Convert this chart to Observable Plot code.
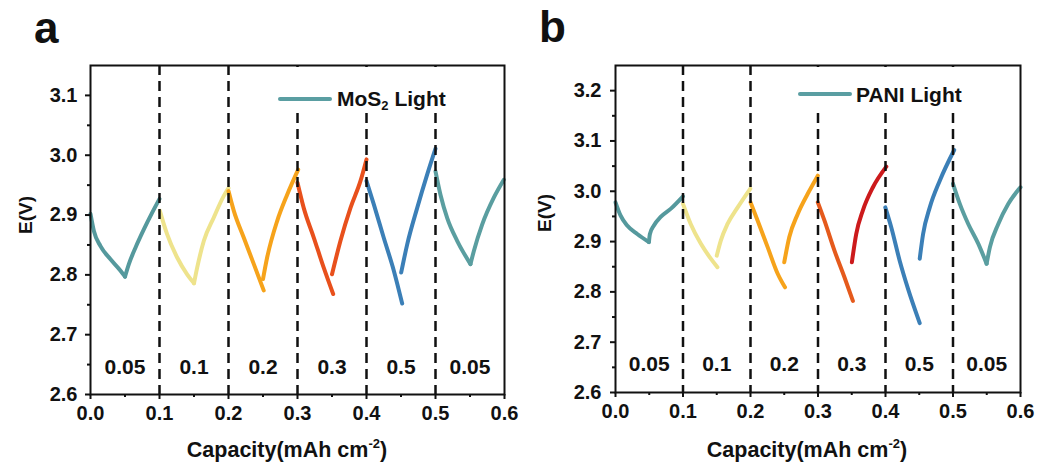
<!DOCTYPE html>
<html><head><meta charset="utf-8">
<script src="https://cdn.jsdelivr.net/npm/d3@7"></script>
<script src="https://cdn.jsdelivr.net/npm/@observablehq/plot@0.6"></script>
<style>
body{margin:0;background:#fff;font-family:"Liberation Sans",Arial,sans-serif;color:#111}
#wrap{position:relative;width:1040px;height:468px;overflow:hidden}
.panel{position:absolute;top:0;width:520px;height:468px}
.panel svg{position:absolute;left:0;top:0}
.letter{position:absolute;font-size:44px;line-height:44px;font-weight:bold;color:#111}
.legbox{position:absolute;background:#fff}
.legline{position:absolute;height:4px;border-radius:2px}
.legtext{position:absolute;font-size:21px;line-height:24px;font-weight:bold;white-space:nowrap;color:#111}
.xtitle{position:absolute;width:400px;text-align:center;font-size:21.5px;line-height:24px;font-weight:bold;color:#111;white-space:nowrap}
.ytitle{position:absolute;width:100px;height:24px;text-align:center;font-size:19px;line-height:24px;font-weight:bold;color:#111;transform:rotate(-90deg)}
sup{font-size:13px;vertical-align:9px;line-height:0}
sub{font-size:13px;vertical-align:-4px;line-height:0}
</style></head>
<body>
<div id="wrap">
  <div class="panel" id="pa" style="left:0"></div>
  <div class="panel" id="pb" style="left:520px"></div>
</div>
<script>
// ---------- shared values ----------
const xTicks = [0, 0.1, 0.2, 0.3, 0.4, 0.5, 0.6];
const xMinor = [0.05, 0.15, 0.25, 0.35, 0.45, 0.55];
const dividers = [0.1, 0.2, 0.3, 0.4, 0.5];
const regionX = [0.05, 0.15, 0.25, 0.35, 0.45, 0.55];
const regionText = ["0.05", "0.1", "0.2", "0.3", "0.5", "0.05"];

// ---------- panel a: MoS2 Light ----------
const yTicksA = [2.6, 2.7, 2.8, 2.9, 3.0, 3.1];
const yMinorA = [2.65, 2.75, 2.85, 2.95, 3.05];
const curvesA = ["a1d","a1c","a2d","a2c","a3d","a3c","a4d","a4c","a5d","a5c","a6d","a6c"];
const colorsA = ["#55999d","#55999d","#eee38c","#eee38c","#f6a31b","#f6a31b","#e8501c","#e8501c","#3b7fb7","#3b7fb7","#5a9ea0","#5a9ea0"];
const capA = [
  [0, 0.005, 0.0145, 0.029, 0.0435, 0.05],
  [0.05, 0.0556, 0.065, 0.0773, 0.0894, 0.1],
  [0.1005, 0.111, 0.1256, 0.14, 0.15],
  [0.15, 0.1546, 0.1643, 0.1787, 0.1932, 0.2],
  [0.2, 0.2077, 0.2222, 0.2367, 0.251],
  [0.25, 0.256, 0.2705, 0.285, 0.301],
  [0.3, 0.309, 0.3237, 0.338, 0.3517],
  [0.35, 0.3623, 0.3768, 0.3913, 0.4],
  [0.4, 0.4106, 0.425, 0.4396, 0.4517],
  [0.4503, 0.459, 0.4735, 0.488, 0.5],
  [0.5, 0.5072, 0.517, 0.5314, 0.5507],
  [0.5507, 0.5556, 0.5676, 0.5845, 0.599]
];
const potA = [
  [2.902, 2.873, 2.848, 2.826, 2.807, 2.797],
  [2.797, 2.818, 2.845, 2.876, 2.904, 2.927],
  [2.907, 2.868, 2.829, 2.801, 2.786],
  [2.786, 2.812, 2.857, 2.896, 2.932, 2.945],
  [2.94, 2.907, 2.862, 2.818, 2.774],
  [2.793, 2.829, 2.89, 2.934, 2.976],
  [2.954, 2.912, 2.862, 2.812, 2.768],
  [2.801, 2.857, 2.912, 2.957, 2.993],
  [2.957, 2.918, 2.862, 2.807, 2.752],
  [2.804, 2.851, 2.912, 2.968, 3.011],
  [2.973, 2.934, 2.895, 2.857, 2.818],
  [2.818, 2.84, 2.884, 2.929, 2.959]
];

// ---------- panel b: PANI Light ----------
const yTicksB = [2.6, 2.7, 2.8, 2.9, 3.0, 3.1, 3.2];
const yMinorB = [2.65, 2.75, 2.85, 2.95, 3.05, 3.15];
const curvesB = ["b1d","b1c","b2d","b2c","b3d","b3c","b4d","b4c","b5d","b5c","b6d","b6c"];
const colorsB = ["#55999d","#55999d","#eee38c","#eee38c","#f6a31b","#f6a31b","#e55a1c","#cc1a1c","#3b7fb7","#3b7fb7","#5a9ea0","#5a9ea0"];
const capB = [
  [0, 0.0074, 0.0173, 0.0322, 0.0495],
  [0.0495, 0.051, 0.0569, 0.0669, 0.0817, 0.1],
  [0.1, 0.1114, 0.1263, 0.1412, 0.151],
  [0.15, 0.156, 0.166, 0.181, 0.1996],
  [0.2, 0.2105, 0.2254, 0.2403, 0.2511],
  [0.25, 0.2575, 0.27, 0.2848, 0.2997],
  [0.2997, 0.3095, 0.3244, 0.3392, 0.3517],
  [0.3502, 0.3566, 0.3665, 0.3814, 0.4012],
  [0.3997, 0.4086, 0.421, 0.4334, 0.4507],
  [0.4507, 0.4557, 0.4656, 0.4804, 0.5018],
  [0.5, 0.5101, 0.5226, 0.5374, 0.5498],
  [0.5498, 0.5547, 0.5671, 0.582, 0.6]
];
const potB = [
  [2.978, 2.952, 2.932, 2.915, 2.899],
  [2.899, 2.915, 2.932, 2.949, 2.965, 2.99],
  [2.975, 2.935, 2.896, 2.866, 2.849],
  [2.872, 2.902, 2.935, 2.968, 3.005],
  [2.978, 2.942, 2.889, 2.836, 2.809],
  [2.859, 2.909, 2.955, 2.995, 3.031],
  [2.978, 2.942, 2.882, 2.829, 2.782],
  [2.859, 2.915, 2.962, 3.008, 3.049],
  [2.968, 2.928, 2.862, 2.806, 2.738],
  [2.866, 2.915, 2.968, 3.021, 3.082],
  [3.015, 2.975, 2.935, 2.896, 2.856],
  [2.856, 2.889, 2.935, 2.975, 3.008]
];

function panel(o) {
  const data = o.names.flatMap((c, i) => o.caps[i].map((x, j) => ({x, e: o.pots[i][j], c})));
  const fmt = d3.format(".1f");
  return Plot.plot({
    width: 520, height: 468,
    marginLeft: o.mLeft, marginRight: o.mRight, marginTop: 65, marginBottom: o.mBottom,
    x: {domain: [0, 0.6]},
    y: {domain: o.yDomain},
    color: {domain: o.names, range: o.colors},
    style: {fontFamily: "'Liberation Sans', Arial, sans-serif", fontSize: "20px", fontWeight: "bold", color: "#111", background: "transparent", overflow: "visible"},
    marks: [
      Plot.line(data, {x: "x", y: "e", z: "c", stroke: "c", strokeWidth: 4, curve: "monotone-x", strokeLinecap: "round", strokeLinejoin: "round"}),
      Plot.ruleX(dividers, {y1: o.yDomain[1], y2: o.yDomain[0], stroke: "#111", strokeWidth: 2.5, strokeDasharray: "10,6"}),
      Plot.text(regionX, {x: d => d, y: () => o.regionE, text: (d, i) => regionText[i], fontSize: 21, fontWeight: "bold", fill: "#111"}),
      Plot.axisX({ticks: xTicks, tickSize: 5, tickPadding: 6, tickFormat: fmt, label: null, strokeWidth: 2, fill: "#111"}),
      Plot.axisX({ticks: xMinor, tickSize: 3, tickFormat: () => "", label: null, strokeWidth: 2}),
      Plot.axisY({ticks: o.yTicks, tickSize: 5, tickPadding: o.tickPadY, tickFormat: fmt, label: null, strokeWidth: 2, fill: "#111"}),
      Plot.axisY({ticks: o.yMinor, tickSize: 3, tickFormat: () => "", label: null, strokeWidth: 2}),
      Plot.frame({stroke: "#111", strokeWidth: 2})
    ]
  });
}

const pa = document.getElementById("pa");
const pb = document.getElementById("pb");
pa.append(panel({names: curvesA, colors: colorsA, caps: capA, pots: potA, yDomain: [2.6, 3.15], yTicks: yTicksA, yMinor: yMinorA, mLeft: 90, mRight: 16, mBottom: 74, regionE: 2.645, tickPadY: 8}));
pb.append(panel({names: curvesB, colors: colorsB, caps: capB, pots: potB, yDomain: [2.6, 3.25], yTicks: yTicksB, yMinor: yMinorB, mLeft: 95, mRight: 20, mBottom: 76, regionE: 2.656, tickPadY: 9}));

function overlay(el, html) { el.insertAdjacentHTML("beforeend", html); }
overlay(pa, `<div class="letter" style="left:34px;top:6px">a</div>
  <div class="legbox" style="left:270px;top:67px;width:200px;height:45px"></div>
  <div class="legline" style="left:278px;top:97px;width:54px;background:#5a9ea2"></div>
  <div class="legtext" style="left:337px;top:87px">MoS<sub>2</sub> Light</div>
  <div class="xtitle" style="left:87px;top:438px">Capacity(mAh cm<sup>-2</sup>)</div>
  <div class="ytitle" style="left:-24px;top:203px">E(V)</div>`);
overlay(pb, `<div class="letter" style="left:19px;top:5px">b</div>
  <div class="legbox" style="left:270px;top:67px;width:210px;height:45px"></div>
  <div class="legline" style="left:278px;top:92px;width:54px;background:#5a9ea2"></div>
  <div class="legtext" style="left:336px;top:83px">PANI Light</div>
  <div class="xtitle" style="left:87px;top:438px">Capacity(mAh cm<sup>-2</sup>)</div>
  <div class="ytitle" style="left:-25px;top:201px">E(V)</div>`);
</script>
</body></html>
